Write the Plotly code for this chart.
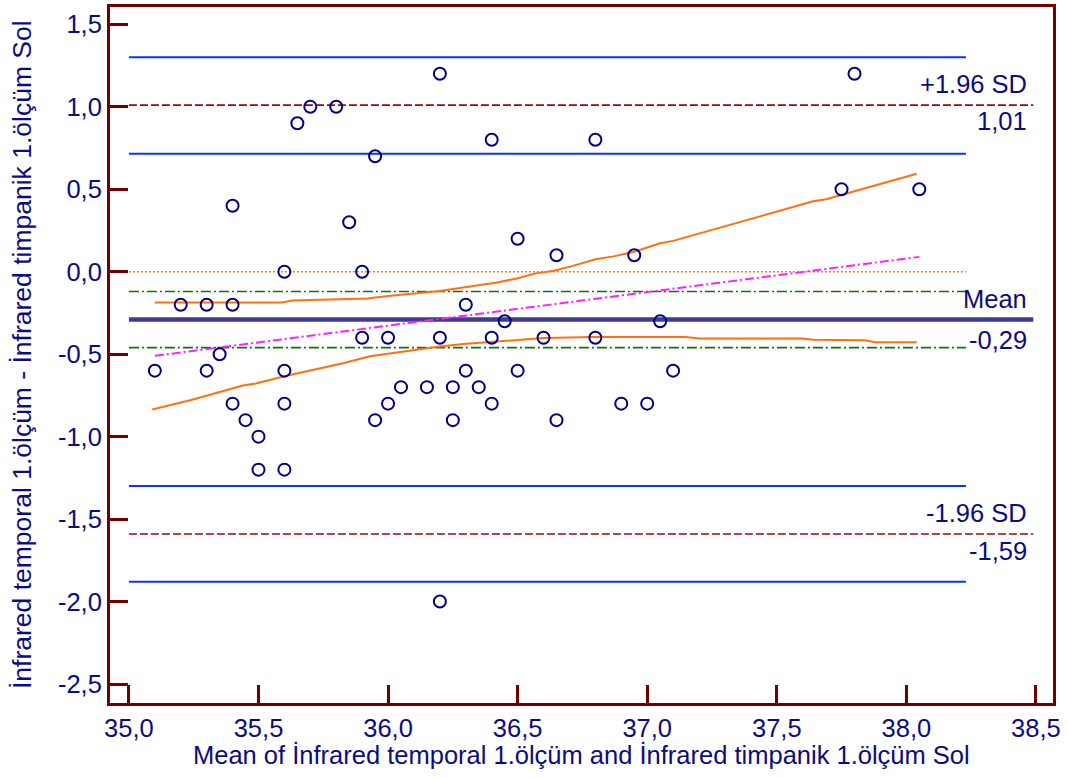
import plotly.graph_objects as go

# ---- data ----
mean_x = [35.1, 35.2, 35.3, 35.3, 35.35, 35.4, 35.4, 35.4, 35.45, 35.5, 35.5,
          35.6, 35.6, 35.6, 35.6, 35.65, 35.7, 35.8, 35.85, 35.9, 35.9, 35.95, 35.95,
          36.0, 36.0, 36.05, 36.15, 36.2, 36.2, 36.2, 36.25, 36.25, 36.3, 36.3, 36.35,
          36.4, 36.4, 36.4, 36.45, 36.5, 36.5, 36.6, 36.65, 36.65, 36.8, 36.8, 36.9,
          36.95, 37.0, 37.05, 37.1, 37.75, 37.8, 38.05]
diff_y = [-0.6, -0.2, -0.2, -0.6, -0.5, 0.4, -0.2, -0.8, -0.9, -1.0, -1.2,
          0.0, -0.6, -0.8, -1.2, 0.9, 1.0, 1.0, 0.3, 0.0, -0.4, 0.7, -0.9,
          -0.4, -0.8, -0.7, -0.7, 1.2, -0.4, -2.0, -0.7, -0.9, -0.2, -0.6, -0.7,
          0.8, -0.4, -0.8, -0.3, 0.2, -0.6, -0.4, 0.1, -0.9, 0.8, -0.4, -0.8,
          0.1, -0.8, -0.3, -0.6, 0.5, 1.2, 0.5]

mean_diff = -0.29
upper_loa = 1.01
lower_loa = -1.59
mean_ci = [-0.12, -0.46]
upper_loa_ci = [1.30, 0.715]
lower_loa_ci = [-1.30, -1.88]
zero_line = 0.0

reg_x = [35.1, 38.05]
reg_y = [-0.51, 0.09]

upper_band_x = [35.1, 35.59, 35.63, 35.82, 35.92, 36.0, 36.09, 36.2, 36.42, 36.5, 36.57,
                36.64, 36.71, 36.8, 36.87, 36.95, 37.05, 37.1, 37.36, 37.64, 37.69, 38.04]
upper_band_y = [-0.187, -0.187, -0.175, -0.167, -0.163, -0.147, -0.135, -0.117, -0.066, -0.04, -0.01,
                0.006, 0.034, 0.075, 0.093, 0.121, 0.172, 0.187, 0.302, 0.427, 0.439, 0.594]
lower_band_x = [35.09, 35.2, 35.24, 35.44, 35.49, 35.6, 35.69, 35.78, 35.83, 35.93, 36.05,
                36.12, 36.2, 36.29, 36.47, 36.6, 36.79, 37.15, 37.2, 37.6, 37.64, 37.84, 37.88, 38.04]
lower_band_y = [-0.835, -0.79, -0.778, -0.69, -0.678, -0.634, -0.603, -0.573, -0.553, -0.513, -0.487,
                -0.469, -0.453, -0.438, -0.416, -0.402, -0.396, -0.396, -0.405, -0.405, -0.413, -0.416, -0.428, -0.428]

x_tick_vals = [35.0, 35.5, 36.0, 36.5, 37.0, 37.5, 38.0, 38.5]
x_tick_labels = ["35,0", "35,5", "36,0", "36,5", "37,0", "37,5", "38,0", "38,5"]
y_tick_vals = [1.5, 1.0, 0.5, 0.0, -0.5, -1.0, -1.5, -2.0, -2.5]
y_tick_labels = ["1,5", "1,0", "0,5", "0,0", "-0,5", "-1,0", "-1,5", "-2,0", "-2,5"]

x_title = "Mean of İnfrared temporal 1.ölçüm and İnfrared timpanik 1.ölçüm Sol"
y_title = "İnfrared temporal 1.ölçüm - İnfrared timpanik 1.ölçüm Sol"

# line extents (x)
x_start = 35.0
x_short_end = 38.23
x_long_end = 38.49
label_x = 38.475

NAVY = "#0c0c80"
MAROON = "#720000"
FONT = "Liberation Sans, Arial, sans-serif"

fig = go.Figure()

def hline(y, x0, x1, color, width, dash="solid"):
    fig.add_trace(go.Scatter(x=[x0, x1], y=[y, y], mode="lines",
                             line=dict(color=color, width=width, dash=dash),
                             hoverinfo="skip", showlegend=False))

for v in upper_loa_ci + lower_loa_ci:
    hline(v, x_start, x_short_end, "#1030ff", 2)
for v in [upper_loa, lower_loa]:
    hline(v, x_start, x_long_end, "#960a0a", 1.6, "8px,3px")
hline(zero_line, x_start, x_short_end, "#ff7a10", 1.6, "2px,2px")
for v in mean_ci:
    hline(v, x_start, x_short_end, "#107010", 1.6, "10px,3px,2px,3px")
hline(mean_diff, x_start, x_long_end, "#3c3c98", 4.5)

fig.add_trace(go.Scatter(x=upper_band_x, y=upper_band_y, mode="lines",
                         line=dict(color="#ff7010", width=2), hoverinfo="skip", showlegend=False))
fig.add_trace(go.Scatter(x=lower_band_x, y=lower_band_y, mode="lines",
                         line=dict(color="#ff7010", width=2), hoverinfo="skip", showlegend=False))
fig.add_trace(go.Scatter(x=reg_x, y=reg_y, mode="lines",
                         line=dict(color="#ff20ff", width=2, dash="9px,3px,2px,3px"),
                         hoverinfo="skip", showlegend=False))

fig.add_trace(go.Scatter(x=mean_x, y=diff_y, mode="markers",
                         marker=dict(symbol="circle-open", size=12, color="#000080",
                                     line=dict(width=2, color="#000080")),
                         showlegend=False))

ann_font = dict(family=FONT, size=25.5, color=NAVY)
labels = [("+1.96 SD", upper_loa, 21), ("1,01", upper_loa, -16),
          ("Mean", mean_diff, 21), ("-0,29", mean_diff, -20),
          ("-1.96 SD", lower_loa, 21), ("-1,59", lower_loa, -17)]
for txt, yv, sh in labels:
    fig.add_annotation(x=label_x, y=yv, xref="x", yref="y", text=txt, showarrow=False,
                       xanchor="right", yanchor="middle", yshift=sh, font=ann_font)

fig.add_annotation(x=0.5, y=-52 / 699, xref="paper", yref="paper", text=x_title,
                   showarrow=False, xanchor="center", yanchor="middle", font=ann_font)
fig.add_annotation(x=-88 / 943, y=0.5, xref="paper", yref="paper", text=y_title,
                   showarrow=False, xanchor="center", yanchor="middle", textangle=-90,
                   font=dict(family=FONT, size=26.5, color=NAVY))

axis_common = dict(showline=True, linecolor=MAROON, linewidth=3, mirror=True,
                   ticks="inside", ticklen=18, tickwidth=3, tickcolor=MAROON,
                   showgrid=False, zeroline=False,
                   tickfont=dict(family=FONT, size=25.5, color=NAVY))
fig.update_xaxes(range=[34.927, 38.566], tickvals=x_tick_vals, ticktext=x_tick_labels,
                 **axis_common)
fig.update_yaxes(range=[-2.615, 1.605], tickvals=y_tick_vals, ticktext=y_tick_labels,
                 **axis_common)

fig.update_layout(width=1068, height=778, margin=dict(l=110, r=15, t=4, b=75),
                  paper_bgcolor="white", plot_bgcolor="white",
                  font=dict(family=FONT, color=NAVY), showlegend=False)

fig.write_html("out.html")
